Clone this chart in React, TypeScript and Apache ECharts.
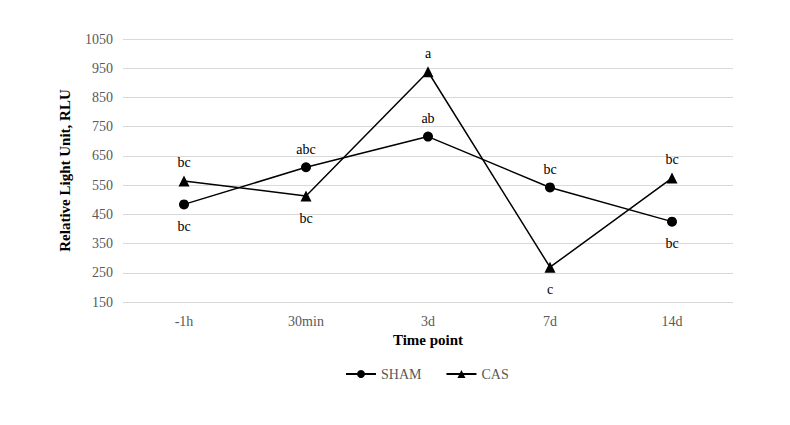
import React, { useEffect, useRef } from "react";
import * as echarts from "echarts";

const categories = ["-1h", "30min", "3d", "7d", "14d"];
const shamValues = [484, 611, 716, 542, 425];
const casValues = [564, 513, 938, 269, 574];
const shamLetters = ["bc", "abc", "ab", "bc", "bc"];
const casLetters = ["bc", "bc", "a", "c", "bc"];
const shamLabelPos = ["bottom", "top", "top", "top", "bottom"];
const casLabelPos = ["top", "bottom", "top", "bottom", "top"];

const FONT = "'Liberation Serif', 'Times New Roman', serif";

export default function App() {
  const ref = useRef<HTMLDivElement>(null);
  useEffect(() => {
    document.body.style.margin = "0";
    if (!ref.current) return;
    const chart = echarts.init(ref.current, null, { renderer: "svg" });
    const mk = (vals: number[], letters: string[], pos: string[], dist: number) =>
      vals.map((v, i) => ({
        value: v,
        label: {
          show: true,
          position: pos[i],
          distance: pos[i] === "top" ? dist : dist + 4,
          formatter: letters[i],
          color: "#000",
          fontFamily: FONT,
          fontSize: 14,
        },
      }));
    chart.setOption({
      animation: false,
      textStyle: { fontFamily: FONT },
      grid: { left: 123, right: 57, top: 39, bottom: 123 },
      xAxis: {
        type: "category",
        data: categories,
        boundaryGap: true,
        name: "Time point",
        nameLocation: "middle",
        nameGap: 30,
        nameTextStyle: { fontFamily: FONT, fontWeight: "bold", fontSize: 15, color: "#000" },
        axisLine: { show: false },
        axisTick: { show: false },
        axisLabel: { color: "#595959", fontFamily: FONT, fontSize: 14, margin: 12 },
      },
      yAxis: {
        type: "value",
        min: 150,
        max: 1050,
        interval: 100,
        name: "Relative Light Unit, RLU",
        nameLocation: "middle",
        nameGap: 51,
        nameTextStyle: { fontFamily: FONT, fontWeight: "bold", fontSize: 15, color: "#000" },
        axisLine: { show: false },
        axisTick: { show: false },
        axisLabel: {
          color: "#595959",
          fontFamily: FONT,
          fontSize: 14,
          margin: 10,
          formatter: (v: number) => String(v),
        },
        splitLine: { lineStyle: { color: "#d9d9d9", width: 1 } },
      },
      legend: {
        left: 345,
        top: 367,
        padding: 0,
        itemWidth: 30,
        itemHeight: 10,
        itemGap: 24,
        textStyle: { fontFamily: FONT, fontSize: 14, color: "#595959" },
        data: ["SHAM", "CAS"],
      },
      series: [
        {
          name: "SHAM",
          type: "line",
          data: mk(shamValues, shamLetters, shamLabelPos, 6),
          symbol: "circle",
          symbolSize: 10,
          itemStyle: { color: "#000" },
          lineStyle: { color: "#000", width: 1.5 },
        },
        {
          name: "CAS",
          type: "line",
          data: mk(casValues, casLetters, casLabelPos, 6),
          symbol: "triangle",
          symbolSize: 11,
          itemStyle: { color: "#000" },
          lineStyle: { color: "#000", width: 1.5 },
        },
      ],
    });
    return () => chart.dispose();
  }, []);
  return <div ref={ref} style={{ width: 790, height: 425 }} />;
}
